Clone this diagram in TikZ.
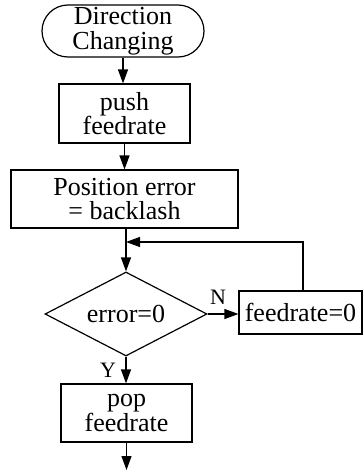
\documentclass[tikz,border=0pt]{standalone}
\usepackage{fontspec}
\setmainfont{Liberation Serif}
\usetikzlibrary{shapes.geometric,arrows.meta}
\begin{document}
\begin{tikzpicture}[x=1pt,y=1pt,
  every node/.style={font=\fontsize{26}{24.5}\selectfont, align=center, inner sep=0pt},
  boxnode/.style={draw, line width=1.2pt, rectangle},
  termnode/.style={draw, line width=1.2pt, rectangle, rounded corners=26pt},
  decnode/.style={draw, line width=1.2pt, diamond, aspect=1.93},
  lbl/.style={font=\fontsize{22}{22}\selectfont},
  flow/.style={line width=1.2pt, -{Triangle[length=14pt,width=10pt]}}
]
\useasboundingbox (0,0) rectangle (363,-471);
\node[termnode, minimum width=162, minimum height=52] (term) at (123,-31) {Direction\\Changing};
\node[boxnode, minimum width=131, minimum height=59] (push) at (124.5,-113.5) {push\\feedrate};
\node[boxnode, minimum width=227, minimum height=58] (pos) at (124.5,-199) {Position error\\= backlash};
\node[decnode, minimum width=162, minimum height=84] (dec) at (126,-314) {error=0};
\node[boxnode, minimum width=123, minimum height=43] (fz) at (300.5,-312.5) {feedrate=0};
\node[boxnode, minimum width=131, minimum height=58] (pop) at (126.5,-413) {pop\\feedrate};
\coordinate (j) at (126,-242);
\coordinate (out) at (126.5,-470);
\node[lbl] (nl) at (218,-297) {N};
\node[lbl] (yl) at (108,-370) {Y};
\draw[flow] (term.south) -- (term.south |- push.north);
\draw[flow] (push.south) -- (push.south |- pos.north);
\draw[line width=1.2pt] (dec.north |- pos.south) -- (j);
\draw[flow] (j) -- (dec.north);
\draw[flow] (dec.east) -- (dec.east -| fz.west);
\draw[flow] (fz.north -| 303,0) |- (j);
\draw[flow] (dec.south) -- (dec.south |- pop.north);
\draw[flow] (pop.south) -- (out);
\end{tikzpicture}
\end{document}
